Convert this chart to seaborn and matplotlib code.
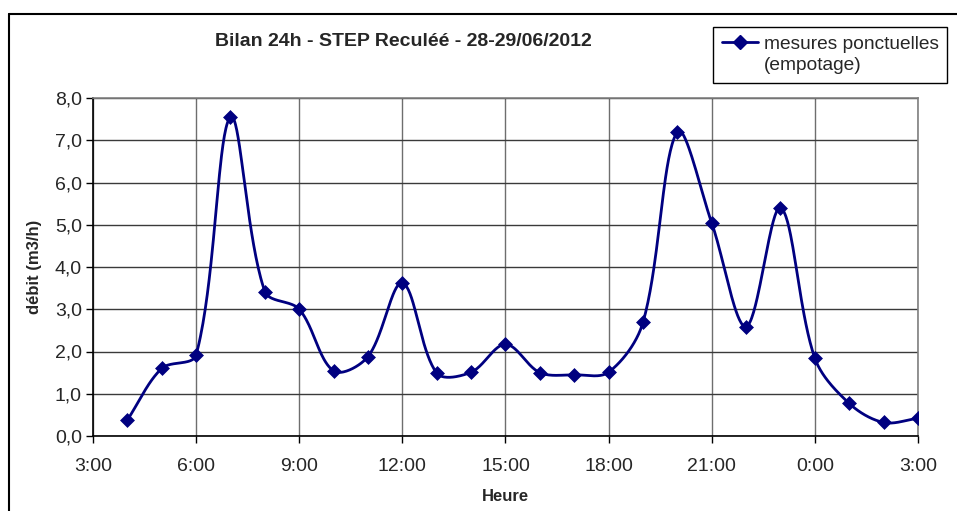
import numpy as np
import pandas as pd
import seaborn as sns
import matplotlib.pyplot as plt
from matplotlib.lines import Line2D

# hourly spot measurements, 4:00 on the 28th to 3:00 on the 29th
hours = list(range(4, 28))
debit = [0.38, 1.60, 1.92, 7.55, 3.42, 3.00, 1.54, 1.88, 3.62, 1.49, 1.51, 2.17,
         1.50, 1.45, 1.51, 2.69, 7.20, 5.04, 2.59, 5.40, 1.84, 0.77, 0.32, 0.42]

x_ticks = [3, 6, 9, 12, 15, 18, 21, 24, 27]
x_labels = ["3:00", "6:00", "9:00", "12:00", "15:00", "18:00", "21:00", "0:00", "3:00"]
y_ticks = [0, 1, 2, 3, 4, 5, 6, 7, 8]

NAVY = "#000080"

# plot area in pixels (left, top, right, bottom)
L, T, R, B = 93, 98, 918, 436
SX = (R - L) / 24.0   # px per hour
SY = (B - T) / 8.0    # px per m3/h


def excel_smooth(x, y, n=40):
    # Excel-like smoothed line: Bezier segments, tangent from neighbours,
    # control arms weighted by the on-screen length of each segment
    x = np.asarray(x, float)
    y = np.asarray(y, float)
    P = np.column_stack([x * SX, y * SY])
    m = len(P)
    d = np.hypot(*np.diff(P, axis=0).T)
    c_out = np.zeros_like(P)
    c_in = np.zeros_like(P)
    for i in range(m):
        if i == 0:
            c_out[i] = P[i] + (P[1] - P[0]) / 3
            continue
        if i == m - 1:
            c_in[i] = P[i] - (P[-1] - P[-2]) / 3
            continue
        tan = P[i + 1] - P[i - 1]
        s = d[i - 1] + d[i]
        c_in[i] = P[i] - tan / 3 * d[i - 1] / s
        c_out[i] = P[i] + tan / 3 * d[i] / s
    t = np.linspace(0, 1, n)[:, None]
    pts = []
    for i in range(m - 1):
        p0, c1, c2, p3 = P[i], c_out[i], c_in[i + 1], P[i + 1]
        b = (1 - t) ** 3 * p0 + 3 * (1 - t) ** 2 * t * c1 + 3 * (1 - t) * t ** 2 * c2 + t ** 3 * p3
        pts.append(b)
    pts = np.vstack(pts)
    return pts[:, 0] / SX, pts[:, 1] / SY


sns.set_style("white")
plt.rcParams["font.family"] = ["Liberation Sans", "DejaVu Sans"]

df = pd.DataFrame({"heure": hours, "debit": debit})
sx, sy = excel_smooth(df.heure, df.debit)
smooth = pd.DataFrame({"heure": sx, "debit": sy})

fig = plt.figure(figsize=(9.57, 5.11), dpi=100)
ax = fig.add_axes([L / 957, 1 - B / 511, (R - L) / 957, (B - T) / 511])

sns.lineplot(data=smooth, x="heure", y="debit", ax=ax, color=NAVY, lw=2,
             sort=False, estimator=None, zorder=3)
sns.scatterplot(data=df, x="heure", y="debit", ax=ax, marker="D", s=50,
                color=NAVY, edgecolor=NAVY, linewidth=0.5, zorder=4)

ax.set_xlim(3, 27)
ax.set_ylim(0, 8)
ax.set_xticks(x_ticks)
ax.set_xticklabels(x_labels)
ax.set_yticks(y_ticks)
ax.set_yticklabels([f"{v:.1f}".replace(".", ",") for v in y_ticks])
ax.tick_params(axis="both", labelsize=14, direction="out", length=5,
               width=1, color="black", pad=3, bottom=True, left=True)
ax.tick_params(axis="x", pad=11)

ax.grid(axis="y", color="#3a3a3a", lw=1)
ax.grid(axis="x", color="#6e6e6e", lw=1)
ax.set_axisbelow(True)
for side in ["left", "bottom"]:
    ax.spines[side].set_color("black")
    ax.spines[side].set_linewidth(1.2)
for side in ["top", "right"]:
    ax.spines[side].set_visible(True)
    ax.spines[side].set_color("#808080")
    ax.spines[side].set_linewidth(1.2)

ax.set_xlabel("Heure", fontsize=12, fontweight="bold", labelpad=10)
ax.set_ylabel("débit (m3/h)", fontsize=12, fontweight="bold", labelpad=9)

fig.text(403 / 957, 1 - 42 / 511, "Bilan 24h - STEP Reculéé - 28-29/06/2012",
         ha="center", va="center", fontsize=14, fontweight="bold")

handle = Line2D([], [], color=NAVY, lw=2, marker="D", markersize=7)
blank = Line2D([], [], linestyle="none")
leg = fig.legend([handle, blank], ["mesures ponctuelles", "(empotage)"],
                 loc="upper left", bbox_to_anchor=(713 / 957, 1 - 27 / 511),
                 fontsize=13.8, frameon=True, fancybox=False, framealpha=1,
                 edgecolor="black", borderpad=0.45, handlelength=1.9,
                 handletextpad=0.3, labelspacing=0.2, borderaxespad=0)
leg.get_frame().set_linewidth(1)

# outer chart border (cut off at right and bottom)
fig.add_artist(Line2D([9 / 957, 9 / 957], [0, 1 - 14 / 511], color="black",
                      lw=1.5, transform=fig.transFigure))
fig.add_artist(Line2D([9 / 957, 1], [1 - 14 / 511, 1 - 14 / 511], color="black",
                      lw=1.5, transform=fig.transFigure))

fig.savefig("out.png", dpi=100)
